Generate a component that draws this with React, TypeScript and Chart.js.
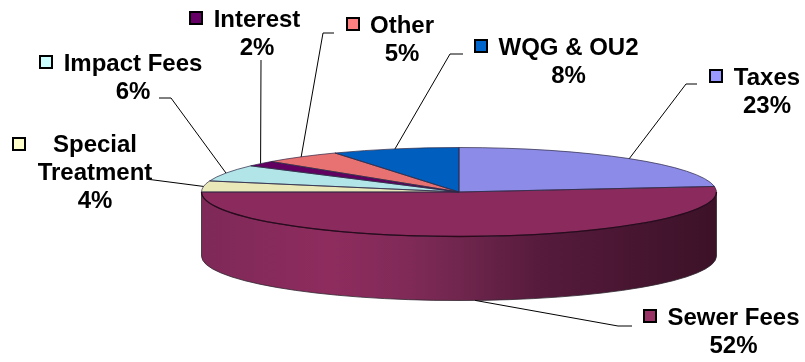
import React, { useEffect, useRef } from "react";
import { Chart, registerables } from "chart.js";

Chart.register(...registerables);

// Revenue sources, in percent, clockwise from twelve o'clock
const categories = ["Taxes", "Sewer Fees", "Special Treatment", "Impact Fees", "Interest", "Other", "WQG & OU2"];
const shares = [23, 52, 4, 6, 2, 5, 8];

// Colours of the top face and of the legend keys
const faceColors = ["#8C8CE8", "#8B2B5D", "#E9E8B8", "#B2E5E8", "#620062", "#E87272", "#005FBE"];
const keyColors = ["#9999FF", "#993366", "#FFFFCC", "#CCFFFF", "#660066", "#FF8080", "#0066CC"];

// Shading along the front wall, left to right
const wallStops: [number, string][] = [
  [0, "#7E2958"],
  [0.25, "#8E2C5E"],
  [0.4, "#802A58"],
  [0.5, "#70264E"],
  [0.65, "#571B3D"],
  [0.85, "#471530"],
  [1, "#3C1228"],
];

// Disc placement on the canvas
const DISC = { cx: 459, cy: 192, rx: 257.5, ry: 44.5, depth: 64 };

// Label blocks: text lines with their centre and baselines, legend key, leader elbow
const labelLines = [
  ["Taxes"],
  ["Sewer Fees"],
  ["Special", "Treatment"],
  ["Impact Fees"],
  ["Interest"],
  ["Other"],
  ["WQG & OU2"],
];
const labelCentersX = [767, 733.5, 95, 133, 257, 402, 568.5];
const labelBaselines = [85, 325, 152, 71, 27, 33, 55];
const keyOrigins = [[709, 69], [643, 309], [12, 137], [39, 55], [189, 11], [346, 17], [474, 39]];
const leaderStarts = [[697, 84], [632, 326], [146, 179], [159, 98], [261, 60], [334, 33], [463, 54]];
const leaderElbows = [[686, 84], [618, 326], null, [171, 98], null, [323, 33], [450, 54]];

const LINE_HEIGHT = 28;
const FONT = 'bold 24px "Liberation Sans", Arial, sans-serif';

const tiltedDisc = {
  id: "tiltedDisc",
  beforeDatasetsDraw(chart: any) {
    const { ctx } = chart;
    const arcs = chart.getDatasetMeta(0).data;
    const { cx, cy, rx, ry, depth } = DISC;

    // Front wall: only the part of each slice that faces the viewer
    arcs.forEach((arc: any) => {
      const a0 = Math.max(arc.startAngle, 0);
      const a1 = Math.min(arc.endAngle, Math.PI);
      if (a1 <= a0) return;
      const shade = ctx.createLinearGradient(cx - rx, 0, cx + rx, 0);
      wallStops.forEach(([p, c]) => shade.addColorStop(p, c));
      ctx.beginPath();
      ctx.ellipse(cx, cy, rx, ry, 0, a0, a1);
      ctx.ellipse(cx, cy + depth, rx, ry, 0, a1, a0, true);
      ctx.closePath();
      ctx.fillStyle = shade;
      ctx.fill();
      ctx.strokeStyle = "rgba(50,40,50,0.8)";
      ctx.lineWidth = 1;
      ctx.stroke();
    });

    // Flatten the circular pie into the top face of the disc
    const first = arcs[0];
    const r = first.outerRadius;
    ctx.save();
    ctx.translate(cx, cy);
    ctx.scale(rx / r, ry / r);
    ctx.translate(-first.x, -first.y);
  },
  afterDatasetsDraw(chart: any) {
    const { ctx } = chart;
    ctx.restore();
    const arcs = chart.getDatasetMeta(0).data;
    const { cx, cy, rx, ry, depth } = DISC;

    // Slice outlines, stroked after flattening so the pen stays one pixel wide
    arcs.forEach((arc: any) => {
      ctx.beginPath();
      ctx.moveTo(cx, cy);
      ctx.ellipse(cx, cy, rx, ry, 0, arc.startAngle, arc.endAngle);
      ctx.closePath();
      ctx.strokeStyle = "rgba(45,40,70,0.7)";
      ctx.lineWidth = 1;
      ctx.stroke();
    });

    // Darker seam between top face and front wall
    ctx.beginPath();
    ctx.ellipse(cx, cy, rx, ry, 0, 0, Math.PI);
    ctx.strokeStyle = "#2A0A1C";
    ctx.lineWidth = 1.3;
    ctx.stroke();

    // Leader lines run from each label to the rim at the slice's middle angle
    arcs.forEach((arc: any, i: number) => {
      const mid = (arc.startAngle + arc.endAngle) / 2;
      const rimX = cx + rx * Math.cos(mid);
      const front = Math.sin(mid) > 0;
      const rimY = cy + ry * Math.sin(mid) + (front ? depth : 0);
      const start = leaderStarts[i];
      const elbow = leaderElbows[i];
      ctx.beginPath();
      ctx.moveTo(start[0], start[1]);
      if (elbow) ctx.lineTo(elbow[0], elbow[1]);
      ctx.lineTo(rimX, rimY);
      ctx.strokeStyle = "#000000";
      ctx.lineWidth = 1;
      ctx.stroke();
    });

    // Labels: name lines, then the share, with a small colour key
    ctx.font = FONT;
    ctx.textAlign = "center";
    ctx.textBaseline = "alphabetic";
    categories.forEach((_, i) => {
      const lines = [...labelLines[i], `${shares[i]}%`];
      lines.forEach((text, k) => {
        ctx.fillStyle = "#000000";
        ctx.fillText(text, labelCentersX[i], labelBaselines[i] + k * LINE_HEIGHT);
      });
      const [kx, ky] = keyOrigins[i];
      ctx.fillStyle = keyColors[i];
      ctx.fillRect(kx + 1, ky + 1, 12, 12);
      ctx.strokeStyle = "#000000";
      ctx.lineWidth = 2;
      ctx.strokeRect(kx + 1, ky + 1, 12, 12);
    });
  },
};

export default function App() {
  const ref = useRef<HTMLCanvasElement>(null);

  useEffect(() => {
    const chart = new Chart(ref.current!, {
      type: "pie",
      data: {
        labels: categories,
        datasets: [
          {
            data: shares,
            backgroundColor: faceColors,
            borderWidth: 0,
            clip: false,
          } as any,
        ],
      },
      options: {
        animation: false,
        responsive: false,
        maintainAspectRatio: false,
        layout: { padding: 0 },
        plugins: { legend: { display: false }, tooltip: { enabled: false } },
      },
      plugins: [tiltedDisc],
    });
    return () => chart.destroy();
  }, []);

  return (
    <div style={{ position: "absolute", left: 0, top: 0, width: 805, height: 362, background: "#fff" }}>
      <canvas ref={ref} width={805} height={362} style={{ display: "block" }} />
    </div>
  );
}
